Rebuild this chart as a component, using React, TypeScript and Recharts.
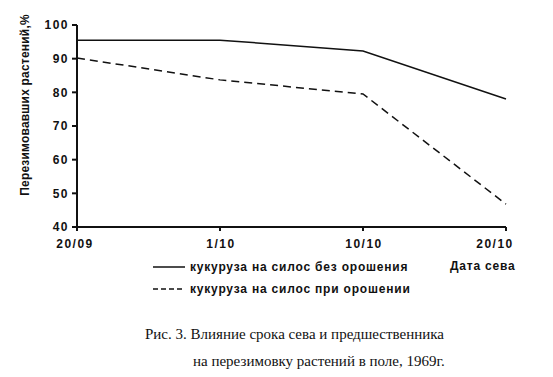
import { LineChart, Line, XAxis, YAxis, Label } from "recharts";

const dates = ["20/09", "1/10", "10/10", "20/10"];
const withoutIrrigation = [95.5, 95.5, 92.3, 78];
const withIrrigation = [90.2, 83.7, 79.5, 46.8];
const yTicks = [40, 50, 60, 70, 80, 90, 100];

const data = dates.map((d, i) => ({ date: d, a: withoutIrrigation[i], b: withIrrigation[i] }));

const sans = "'Liberation Sans', Arial, sans-serif";
const tickStyle = { fill: "#111", fontSize: 12, fontWeight: 700, fontFamily: sans, letterSpacing: 1.5 };

// last label sits a bit left of its tick in the original
const DateTick = (props: any) => {
  const { x, y, payload, index } = props;
  const shift = index === dates.length - 1 ? -11 : index === 0 ? -2 : 1;
  return (
    <text x={x + shift} y={y + 15} textAnchor="middle" style={tickStyle}>
      {payload.value}
    </text>
  );
};

export default function App() {
  return (
    <div style={{ position: "absolute", left: 0, top: 0, width: 553, height: 377, background: "#fff" }}>
      <LineChart width={553} height={260} data={data} margin={{ top: 25, right: 47, bottom: 3, left: 0 }}>
        <XAxis
          dataKey="date"
          padding={{ left: 0, right: 0 }}
          stroke="#111"
          strokeWidth={2}
          tickSize={4}
          tick={<DateTick />}
          height={30}
          interval={0}
        />
        <YAxis
          domain={[40, 100]}
          ticks={yTicks}
          stroke="#111"
          strokeWidth={2}
          tickSize={5}
          tickMargin={3}
          tick={tickStyle}
          width={77}
          interval={0}
        >
          <Label
            content={() => (
              <text
                x={25}
                y={105}
                dy={4}
                transform="rotate(-90 25 105)"
                textAnchor="middle"
                style={{ ...tickStyle, letterSpacing: 0.2 }}
              >
                Перезимовавших растений,%
              </text>
            )}
          />
        </YAxis>
        <Line dataKey="a" stroke="#111" strokeWidth={1.5} dot={false} isAnimationActive={false} />
        <Line dataKey="b" stroke="#111" strokeWidth={1.5} strokeDasharray="8 5" dot={false} isAnimationActive={false} />
      </LineChart>
      <div style={{ position: "absolute", left: 153, top: 256, fontFamily: sans, fontWeight: 700, fontSize: 12, color: "#111", lineHeight: "22px" }}>
        <div style={{ display: "flex", alignItems: "center" }}>
          <svg width={32} height={4}><line x1={0} y1={2} x2={32} y2={2} stroke="#111" strokeWidth={1.5} /></svg>
          <span style={{ marginLeft: 5, letterSpacing: 0.8 }}>кукуруза на силос без орошения</span>
        </div>
        <div style={{ display: "flex", alignItems: "center" }}>
          <svg width={32} height={4}><line x1={0} y1={2} x2={32} y2={2} stroke="#111" strokeWidth={1.5} strokeDasharray="5 3" /></svg>
          <span style={{ marginLeft: 5, letterSpacing: 0.8 }}>кукуруза на силос при орошении</span>
        </div>
      </div>
      <div style={{ position: "absolute", left: 450, top: 259, fontFamily: sans, fontWeight: 700, fontSize: 12, color: "#111", letterSpacing: 0.8 }}>
        Дата сева
      </div>
      <div style={{ position: "absolute", left: 145, top: 321, fontFamily: "'Liberation Serif', 'Times New Roman', serif", fontSize: 15, color: "#111", lineHeight: "27px" }}>
        <div>Рис. 3. Влияние срока сева и предшественника</div>
        <div style={{ marginLeft: 48 }}>на перезимовку растений в поле, 1969г.</div>
      </div>
    </div>
  );
}
